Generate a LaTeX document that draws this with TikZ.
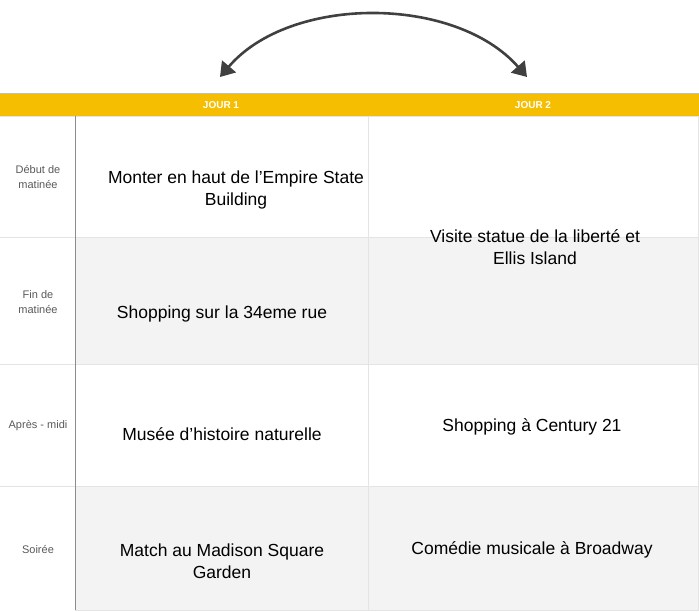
\documentclass[tikz,border=0pt]{standalone}
\usepackage{fontspec}
\setmainfont{Liberation Sans}
\usetikzlibrary{arrows.meta}
\definecolor{bandyellow}{HTML}{F5BE00}
\definecolor{rowgray}{HTML}{F3F3F3}
\definecolor{gridgray}{HTML}{E4E4E4}
\definecolor{arrowgray}{HTML}{404040}
\tikzset{
	x=1pt, y=-1pt,
	cell/.style={align=center, font=\fontsize{17.5}{22}\selectfont}, % activity text
	slot/.style={align=center, font=\fontsize{11}{15}\selectfont, text=black!65}, % left labels
	day/.style={font=\bfseries\fontsize{10}{12}\selectfont, text=white},
}
\begin{document}
\begin{tikzpicture}
	\useasboundingbox (0,0) rectangle (699,612);
	
	% bands
	\fill[rowgray] (75,237) rectangle (699,364);
	\fill[rowgray] (75,486) rectangle (699,610);
	\fill[bandyellow] (0,93) rectangle (699,116);
	\draw[black!25] (0,93) -- (699,93);
	\draw[gridgray] (0,116) -- (699,116);
	\foreach \y in {237,364,486} \draw[gridgray] (0,\y) -- (699,\y);
	\draw[gridgray] (368,116) -- (368,610);
	\draw[gridgray] (698.5,116) -- (698.5,610);
	\draw[gridgray] (75,610) -- (699,610);
	\draw[black!45] (75,116) -- (75,610);
	
	% header
	\node[day] (j1) at (221,105) {JOUR 1};
	\node[day] (j2) at (533,105) {JOUR 2};
	
	% slots
	\node[slot] (s1) at (38,177) {Début de\\matinée};
	\node[slot] (s2) at (38,302) {Fin de\\matinée};
	\node[slot] (s3) at (38,426) {Après - midi};
	\node[slot] (s4) at (38,550) {Soirée};
	
	% activities
	\node[cell] (a1) at (236,190) {Monter en haut de l’Empire State\\Building};
	\node[cell] (a2) at (222,314) {Shopping sur la 34eme rue};
	\node[cell] (a3) at (222,434) {Musée d’histoire naturelle};
	\node[cell] (a4) at (222,561) {Match au Madison Square\\Garden};
	\node[cell] (b1) at (535,247) {Visite statue de la liberté et\\Ellis Island};
	\node[cell] (b2) at (532,427) {Shopping à Century 21};
	\node[cell] (b3) at (532,550) {Comédie musicale à Broadway};
	
	% swap arrow
	\coordinate (l) at (220,77);
	\coordinate (r) at (527,77);
	\draw[arrowgray, line width=2.6pt, {Triangle[length=14pt,width=18pt]}-{Triangle[length=14pt,width=18pt]}]
		(l) .. controls (290,-5) and (455,-5) .. (r);
	
\end{tikzpicture}
\end{document}
